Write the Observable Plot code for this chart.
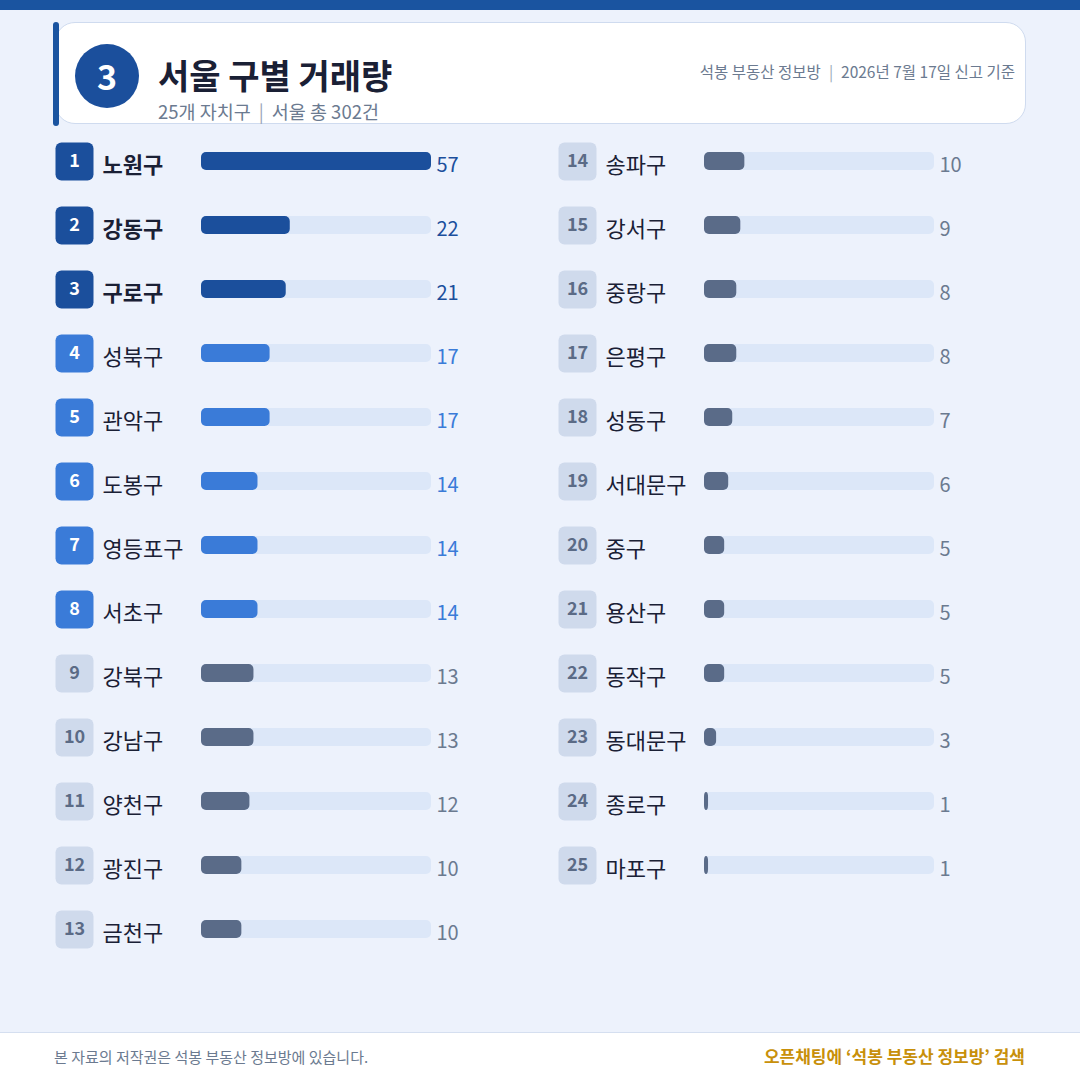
<!DOCTYPE html>
<html><head><meta charset="utf-8">
<script src="https://cdn.jsdelivr.net/npm/d3@7"></script>
<script src="https://cdn.jsdelivr.net/npm/@observablehq/plot@0.6"></script>
<style>
html,body{margin:0;padding:0;}
body{width:1080px;height:1080px;background:#edf2fc;font-family:"Noto Sans CJK KR","Noto Sans",sans-serif;position:relative;overflow:hidden;}
#topbar{position:absolute;left:0;top:0;width:1080px;height:10px;background:#1a54a0;}
#card{position:absolute;left:55px;top:22px;width:969px;height:100px;background:#fff;border:1.5px solid #cfdbef;border-radius:20px;}
#accent{position:absolute;left:53px;top:22px;width:6px;height:104px;background:#1a54a0;border-radius:3px;}
#badge{position:absolute;left:75px;top:44px;width:64px;height:64px;border-radius:50%;background:#1b4f9c;color:#fff;font-weight:700;font-size:34px;display:flex;align-items:center;justify-content:center;line-height:1;}
#title{position:absolute;left:158px;top:58px;font-size:34px;font-weight:700;color:#1a2035;line-height:1;white-space:nowrap;}
#subtitle{position:absolute;left:158px;top:102px;font-size:18.5px;color:#6b7a90;line-height:1;white-space:nowrap;}
#source{position:absolute;right:65px;top:64px;font-size:15.5px;color:#6b7a90;line-height:1;white-space:nowrap;}
.sep{color:#9aa6b8;margin:0 8px;}
#chart{position:absolute;left:0;top:129px;}
#footer{position:absolute;left:0;top:1032px;width:1080px;height:48px;background:#fff;border-top:1.5px solid #d5dff0;}
#copy{position:absolute;left:54px;top:16px;font-size:15px;color:#6b7a90;line-height:1;white-space:nowrap;}
#promo{position:absolute;right:55px;top:14px;font-size:17px;font-weight:700;color:#c8900a;line-height:1;white-space:nowrap;}
</style>
</head>
<body>
<div id="topbar"></div>
<div id="card"></div>
<div id="accent"></div>
<div id="badge">3</div>
<div id="title">서울 구별 거래량</div>
<div id="subtitle">25개 자치구<span class="sep">|</span>서울 총 302건</div>
<div id="source">석봉 부동산 정보방<span class="sep">|</span>2026년 7월 17일 신고 기준</div>
<div id="chart"></div>
<div id="footer">
  <div id="copy">본 자료의 저작권은 석봉 부동산 정보방에 있습니다.</div>
  <div id="promo">오픈채팅에 ‘석봉 부동산 정보방’ 검색</div>
</div>
<script>
const districts = ["노원구","강동구","구로구","성북구","관악구","도봉구","영등포구","서초구","강북구","강남구","양천구","광진구","금천구",
                   "송파구","강서구","중랑구","은평구","성동구","서대문구","중구","용산구","동작구","동대문구","종로구","마포구"];
const counts = [57,22,21,17,17,14,14,14,13,13,12,10,10,10,9,8,8,7,6,5,5,5,3,1,1];
const perColumn = 13;

const badgeFill = {top:"#1b4f9c", mid:"#3a7bd8", low:"#cfdaec"};
const badgeText = {top:"#ffffff", mid:"#ffffff", low:"#5b6b86"};
const barFill   = {top:"#1b4f9c", mid:"#3a7bd8", low:"#5a6b88"};
const valueText = {top:"#1b4f9c", mid:"#3a7bd8", low:"#6b7a90"};

const rows = districts.map((name, i) => ({
  name, value: counts[i], rank: i + 1,
  col: Math.floor(i / perColumn), row: i % perColumn,
  tier: i < 3 ? "top" : i < 8 ? "mid" : "low"
}));
const maxV = d3.max(counts);

const roundedSquare = {
  draw(ctx, size) {
    const s = Math.sqrt(size / Math.PI), r = 6;
    ctx.moveTo(-s + r, -s);
    ctx.lineTo(s - r, -s);
    ctx.arcTo(s, -s, s, -s + r, r);
    ctx.lineTo(s, s - r);
    ctx.arcTo(s, s, s - r, s, r);
    ctx.lineTo(-s + r, s);
    ctx.arcTo(-s, s, -s, s - r, r);
    ctx.lineTo(-s, -s + r);
    ctx.arcTo(-s, -s, -s + r, -s, r);
    ctx.closePath();
  }
};

const common = {fx: "col", y: "row"};
const chart = Plot.plot({
  width: 1080, height: 832,
  marginTop: 0, marginBottom: 0, marginLeft: 200, marginRight: 146,
  x: {domain: [0, maxV], axis: null},
  y: {type: "band", domain: d3.range(perColumn), padding: 0, axis: null},
  fx: {domain: [0, 1], paddingInner: 274 / 504, paddingOuter: 0, axis: null, label: null},
  color: {type: "identity"},
  style: {background: "transparent", fontFamily: '"Noto Sans CJK KR","Noto Sans",sans-serif', overflow: "visible"},
  marks: [
    Plot.barX(rows, {...common, x1: 0, x2: maxV, fill: "#dce7f8", insetTop: 23, insetBottom: 23, rx: 5}),
    Plot.barX(rows, {...common, x1: 0, x2: "value", fill: d => barFill[d.tier], insetTop: 23, insetBottom: 23, rx: 5}),
    Plot.dot(rows, {...common, x: 0, dx: -127, symbol: roundedSquare, r: 19, fill: d => badgeFill[d.tier]}),
    Plot.text(rows, {...common, x: 0, dx: -127, dy: 0, text: d => String(d.rank), fill: d => badgeText[d.tier], fontWeight: 700, fontSize: 18}),
    Plot.text(rows, {...common, filter: d => d.tier === "top", x: 0, dx: -99, dy: 4, text: "name", textAnchor: "start", fontSize: 22, fontWeight: 700, fill: "#1a2035"}),
    Plot.text(rows, {...common, filter: d => d.tier !== "top", x: 0, dx: -99, dy: 4, text: "name", textAnchor: "start", fontSize: 22, fontWeight: 400, fill: "#1a2035"}),
    Plot.text(rows, {...common, x: maxV, dx: 5, dy: 4, text: "value", textAnchor: "start", fontSize: 20, fill: d => valueText[d.tier]})
  ]
});
document.getElementById("chart").appendChild(chart);
</script>
</body></html>
